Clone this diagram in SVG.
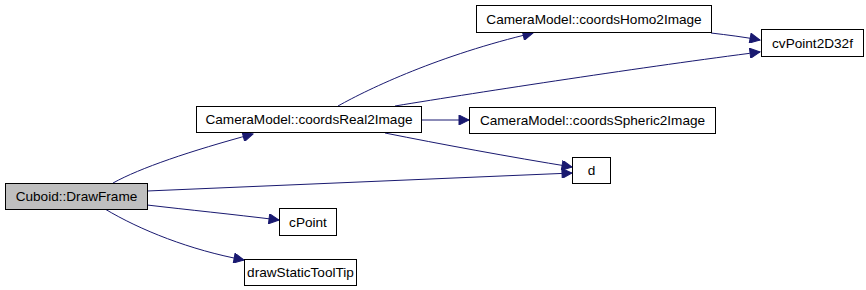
<svg xmlns="http://www.w3.org/2000/svg" width="866" height="290" viewBox="0 0 866 290">
  <style>
    .node rect { fill: #ffffff; stroke: #000000; stroke-width: 1; }
    .node.root rect { fill: #bfbfbf; }
    .node text { font-family: "Liberation Sans", Arial, Helvetica, sans-serif; font-size: 13.6px; fill: #000000; text-anchor: middle; }
    .edge { fill: none; stroke: #191970; stroke-width: 1; }
  </style>
  <defs>
    <marker id="arrow" viewBox="0 0 10 10" refX="10" refY="5" markerWidth="12" markerHeight="10" markerUnits="userSpaceOnUse" orient="auto">
      <path d="M0,0 L10,5 L0,10 z" fill="#191970" stroke="#191970"/>
    </marker>
  </defs>
  <rect width="866" height="290" fill="#ffffff"/>

  <g id="edges">
    <path class="edge" marker-end="url(#arrow)" d="M113,183 C140,168 190,151 253,134"/>
    <path class="edge" marker-end="url(#arrow)" d="M147,191 L572,173"/>
    <path class="edge" marker-end="url(#arrow)" d="M147,205 C190,210 230,214 279,220"/>
    <path class="edge" marker-end="url(#arrow)" d="M105,209 C140,230 190,250 244,260"/>
    <path class="edge" marker-end="url(#arrow)" d="M338,106 C370,88 440,55 533,33"/>
    <path class="edge" marker-end="url(#arrow)" d="M395,106 C480,92 650,66 760,52"/>
    <path class="edge" marker-end="url(#arrow)" d="M421,120 L469,120"/>
    <path class="edge" marker-end="url(#arrow)" d="M385,133 C440,144 510,157 572,167"/>
    <path class="edge" marker-end="url(#arrow)" d="M711,33 C728,35 744,37 760,40"/>
  </g>

  <g id="node-drawframe" class="node root">
    <rect x="5.5" y="183.5" width="142" height="26"/>
    <text x="76.5" y="201">Cuboid::DrawFrame</text>
  </g>
  <g id="node-coordsreal2image" class="node">
    <rect x="196.5" y="106.5" width="225" height="26"/>
    <text x="309" y="124">CameraModel::coordsReal2Image</text>
  </g>
  <g id="node-coordshomo2image" class="node">
    <rect x="476.5" y="5.5" width="235" height="27"/>
    <text x="594" y="24">CameraModel::coordsHomo2Image</text>
  </g>
  <g id="node-cvpoint2d32f" class="node">
    <rect x="761.5" y="29.5" width="102" height="27"/>
    <text x="812.5" y="48">cvPoint2D32f</text>
  </g>
  <g id="node-coordsspheric2image" class="node">
    <rect x="469.5" y="107.5" width="246" height="26"/>
    <text x="592.5" y="125">CameraModel::coordsSpheric2Image</text>
  </g>
  <g id="node-d" class="node">
    <rect x="572.5" y="157.5" width="38" height="26"/>
    <text x="591.5" y="175">d</text>
  </g>
  <g id="node-cpoint" class="node">
    <rect x="279.5" y="208.5" width="57" height="27"/>
    <text x="308" y="227">cPoint</text>
  </g>
  <g id="node-drawstatictooltip" class="node">
    <rect x="244.5" y="259.5" width="112" height="26"/>
    <text x="300.5" y="277">drawStaticToolTip</text>
  </g>
</svg>
